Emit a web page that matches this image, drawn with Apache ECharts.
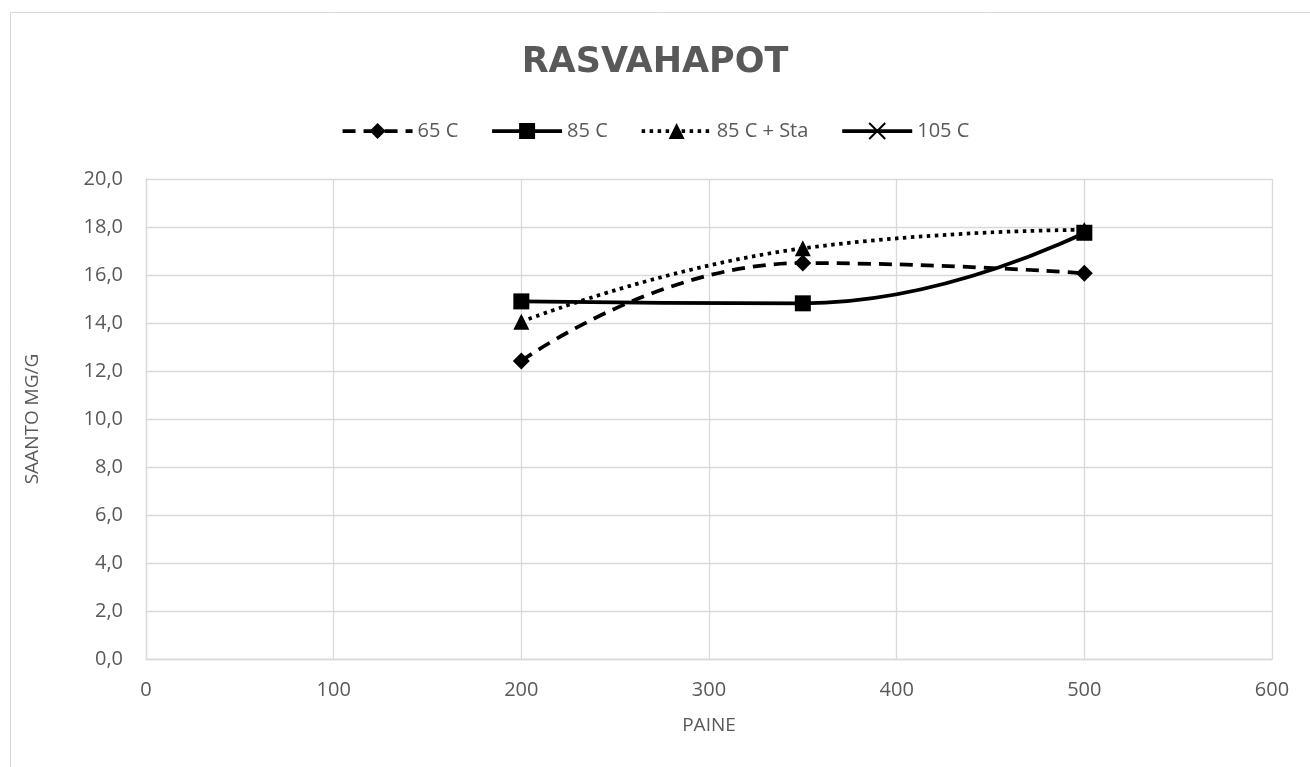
<!DOCTYPE html>
<html>
<head>
<meta charset="utf-8">
<script src="https://cdn.jsdelivr.net/npm/echarts@6/dist/echarts.min.js"></script>
<style>
  html, body { margin: 0; padding: 0; background: #fff; }
  #chart { width: 1310px; height: 767px; }
</style>
</head>
<body>
<div id="chart"></div>
<script>
// Pressure (PAINE) and yield (SAANTO MG/G) per treatment temperature
const paine = [200, 350, 500];
const s65 = [12.42, 16.50, 16.07];
const s85 = [14.90, 14.82, 17.76];
const s85Sta = [14.05, 17.11, 17.88];
const s105 = [];
const seriesNames = ['65 C', '85 C', '85 C + Sta', '105 C'];

const pairs = (ys) => ys.map((y, i) => [paine[i], y]);
const TEXT = '#595959';
const GRID = '#d9d9d9';
const FONT = '"Open Sans", "Noto Sans", sans-serif';

const chart = echarts.init(document.getElementById('chart'), null, { renderer: 'canvas' });

const lineBase = (name, ys, symbol, size, lineType) => ({
  name: name,
  type: 'line',
  data: pairs(ys),
  smooth: 0.5,
  symbol: symbol,
  symbolSize: size,
  showSymbol: true,
  itemStyle: { color: '#000' },
  lineStyle: { color: '#000', width: 3.75, type: lineType },
  emphasis: { disabled: true },
  z: 3
});

const option = {
  animation: false,
  backgroundColor: '#fff',
  textStyle: { fontFamily: FONT, color: TEXT },
  graphic: [{
    type: 'rect',
    shape: { x: 10.5, y: 12.5, width: 1320, height: 800 },
    style: { fill: 'none', stroke: GRID, lineWidth: 1 },
    silent: true, z: -1
  }],
  title: {
    text: 'RASVAHAPOT',
    left: 'center',
    top: 40,
    textStyle: { fontFamily: '"DejaVu Sans", sans-serif', fontSize: 35, fontWeight: 'bold', color: TEXT }
  },
  legend: {
    top: 116,
    left: 'center',
    itemWidth: 70,
    itemHeight: 20,
    itemGap: 32,
    lineStyle: { width: 'inherit' },
    textStyle: { fontFamily: FONT, fontSize: 20, color: TEXT },
    data: seriesNames
  },
  grid: { left: 146, right: 38, top: 179, bottom: 108, containLabel: false },
  xAxis: {
    type: 'value',
    min: 0, max: 600, interval: 100,
    name: 'PAINE',
    nameLocation: 'middle',
    nameGap: 57,
    nameTextStyle: { fontFamily: FONT, fontSize: 19, color: TEXT },
    axisLine: { show: true, lineStyle: { color: GRID, width: 1.3 } },
    axisTick: { show: false },
    axisLabel: { fontFamily: FONT, fontSize: 20, color: TEXT, margin: 21 },
    splitLine: { show: true, lineStyle: { color: GRID, width: 1.3 } }
  },
  yAxis: {
    type: 'value',
    min: 0, max: 20, interval: 2,
    name: 'SAANTO MG/G',
    nameLocation: 'middle',
    nameGap: 104,
    nameTextStyle: { fontFamily: FONT, fontSize: 19, color: TEXT },
    axisLine: { show: true, lineStyle: { color: GRID, width: 1.3 } },
    axisTick: { show: false },
    axisLabel: {
      fontFamily: FONT, fontSize: 20, color: TEXT, margin: 23,
      formatter: (v) => v.toFixed(1).replace('.', ',')
    },
    splitLine: { show: true, lineStyle: { color: GRID, width: 1.3 } }
  },
  series: [
    lineBase(seriesNames[0], s65, 'diamond', 17, [13, 8]),
    lineBase(seriesNames[1], s85, 'rect', 16, 'solid'),
    lineBase(seriesNames[2], s85Sta, 'triangle', 16, [3.5, 4.5]),
    Object.assign(lineBase(seriesNames[3], s105, 'path://M0,0 L10,10 M10,0 L0,10', 12, 'solid'),
      { itemStyle: { color: '#000', borderColor: '#000', borderWidth: 2 } })
  ]
};

chart.setOption(option);
</script>
</body>
</html>
